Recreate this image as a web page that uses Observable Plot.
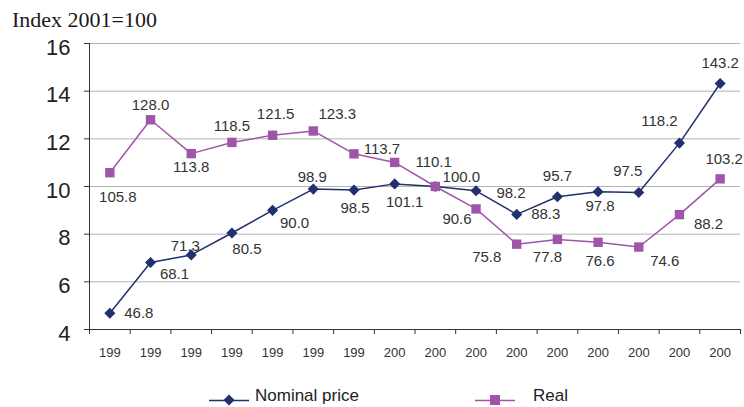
<!DOCTYPE html>
<html>
<head>
<meta charset="utf-8">
<script src="https://cdn.jsdelivr.net/npm/d3@7"></script>
<script src="https://cdn.jsdelivr.net/npm/@observablehq/plot@0.6"></script>
<style>
  body { margin: 0; background: #fff; }
  #wrap { position: relative; width: 744px; height: 407px; overflow: hidden; font-family: "Liberation Sans", Arial, sans-serif; }
  #chart { position: absolute; left: 0; top: 0; }
  #title { position: absolute; left: 12px; top: 9px; font-family: "Liberation Serif", "Times New Roman", serif; font-size: 22px; line-height: 22px; color: #1a1a1a; white-space: nowrap; }
  .legsym { position: absolute; top: 390px; }
  .legtxt { position: absolute; top: 388px; font-size: 17px; line-height: 15px; color: #222; white-space: nowrap; }
</style>
</head>
<body>
<div id="wrap">
  <div id="chart"></div>
  <div id="title">Index 2001=100</div>
  <div id="legend"></div>
</div>
<script>
// ---- data ----
const years = [1993, 1994, 1995, 1996, 1997, 1998, 1999, 2000, 2001, 2002, 2003, 2004, 2005, 2006, 2007, 2008];
const tickLabels = ["199", "199", "199", "199", "199", "199", "199", "200", "200", "200", "200", "200", "200", "200", "200", "200"];
const nominal = [4.68, 6.81, 7.13, 8.05, 9.00, 9.89, 9.85, 10.11, 10.00, 9.82, 8.83, 9.57, 9.78, 9.75, 11.82, 14.32];
const real = [10.58, 12.80, 11.38, 11.85, 12.15, 12.33, 11.37, 11.01, 10.00, 9.06, 7.58, 7.78, 7.66, 7.46, 8.82, 10.32];
const nominalLabels = ["46.8", "68.1", "71.3", "80.5", "90.0", "98.9", "98.5", "101.1", "100.0", "98.2", "88.3", "95.7", "97.8", "97.5", "118.2", "143.2"];
const realLabels = ["105.8", "128.0", "113.8", "118.5", "121.5", "123.3", "113.7", "110.1", "", "90.6", "75.8", "77.8", "76.6", "74.6", "88.2", "103.2"];
const yTicks = [4, 6, 8, 10, 12, 14, 16];
const seriesNames = ["Nominal price", "Real"];

// ---- styles ----
const navy = "#22306e";
const purple = "#a056a8";
const labelColor = "#333";
// label offsets (px) relative to each point, as placed in the original
const nominalOffsets = [[29,0],[24,12],[-6,-9],[15,16],[22,13],[-1,-12],[1,18],[10,18],[26,-9],[35,2],[29,0],[0,-21],[2,14],[-11,-21],[-20,-22],[0,-20]];
const realOffsets = [[8,25],[0,-15],[0,14],[0,-16],[3,-21],[24,-17],[28,-5],[39,0],[0,0],[-19,10],[-30,13],[-10,18],[2,19],[26,14],[29,10],[4,-20]];

const nominalData = years.map((year, i) => ({i, year, value: nominal[i], label: nominalLabels[i]}));
const realData = years.map((year, i) => ({i, year, value: real[i], label: realLabels[i]}));
const xc = d => d.i + 0.5;

const labelMarks = (data, offsets) => data.filter(d => d.label !== "").map(d =>
  Plot.text([d], {x: xc, y: "value", text: "label", dx: offsets[d.i][0], dy: offsets[d.i][1],
    fontSize: 15, fill: labelColor, textAnchor: "middle", lineAnchor: "middle"}));

const chart = Plot.plot({
  width: 744,
  height: 407,
  marginLeft: 89,
  marginRight: 4,
  marginTop: 43,
  marginBottom: 78,
  style: {fontFamily: "'Liberation Sans', Arial, sans-serif", background: "#fff", overflow: "visible"},
  x: {type: "linear", domain: [0, years.length], label: null},
  y: {domain: [4, 16], label: null},
  marks: [
    Plot.ruleY(yTicks.filter(d => d > 4), {stroke: "#b4b4b4", strokeWidth: 1}),
    Plot.ruleY([4], {stroke: "#333", strokeWidth: 1}),
    Plot.ruleX([0], {y1: 4, y2: 16, stroke: "#333", strokeWidth: 1}),
    Plot.axisY({ticks: yTicks, tickSize: 5, fill: "none", stroke: "#333", anchor: "left", label: null}),
    Plot.axisY({ticks: yTicks, tickSize: 0, tickPadding: 19, stroke: "none", fill: "#222", fontSize: 22, dy: 4, anchor: "left", label: null, tickFormat: d => String(d)}),
    Plot.axisX({ticks: d3.range(years.length + 1), tickSize: 5, fill: "none", stroke: "#333", anchor: "bottom", label: null}),
    Plot.axisX({ticks: years.map((d, i) => i + 0.5), tickSize: 0, tickPadding: 18, stroke: "none", fill: "#333", fontSize: 13, anchor: "bottom", label: null,
      tickFormat: d => tickLabels[Math.floor(d)]}),
    Plot.line(nominalData, {x: xc, y: "value", stroke: navy, strokeWidth: 1.5}),
    Plot.dot(nominalData, {x: xc, y: "value", symbol: "diamond2", r: 5, fill: navy, stroke: "none"}),
    Plot.line(realData, {x: xc, y: "value", stroke: purple, strokeWidth: 1.5}),
    Plot.dot(realData, {x: xc, y: "value", symbol: "square", r: 5.3, fill: purple, stroke: "none"}),
    ...labelMarks(nominalData, nominalOffsets),
    ...labelMarks(realData, realOffsets)
  ]
});
document.getElementById("chart").appendChild(chart);

// ---- legend ----
const legend = document.getElementById("legend");
const legItems = [
  {name: seriesNames[0], color: navy, sym: "diamond", symLeft: 209, textLeft: 255},
  {name: seriesNames[1], color: purple, sym: "square", symLeft: 475, textLeft: 533}
];
for (const it of legItems) {
  const shape = it.sym === "diamond"
    ? `<path d="M20,4.5L25.5,10L20,15.5L14.5,10Z" fill="${it.color}"/>`
    : `<rect x="15" y="5" width="10" height="10" fill="${it.color}"/>`;
  const s = document.createElement("div");
  s.className = "legsym";
  s.style.left = it.symLeft + "px";
  s.innerHTML = `<svg width="40" height="16" style="display:block"><line x1="0" x2="40" y1="10.5" y2="10.5" stroke="${it.color}" stroke-width="1.5"/>${shape}</svg>`;
  legend.appendChild(s);
  const t = document.createElement("div");
  t.className = "legtxt";
  t.style.left = it.textLeft + "px";
  t.textContent = it.name;
  legend.appendChild(t);
}
</script>
</body>
</html>
